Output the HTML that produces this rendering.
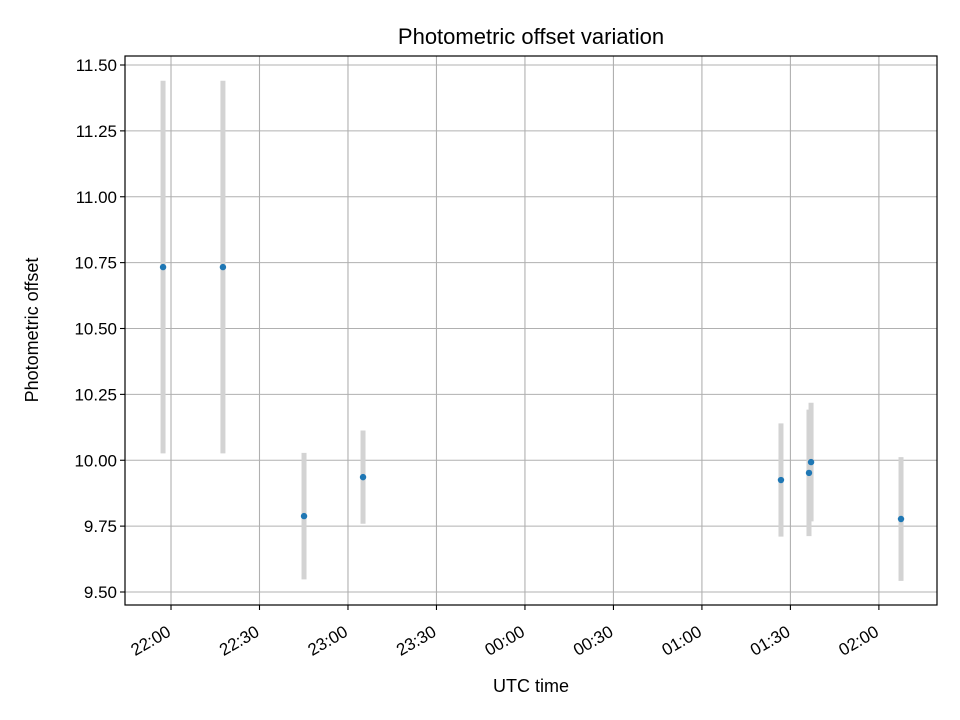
<!DOCTYPE html>
<html><head><meta charset="utf-8"><style>
html,body{margin:0;padding:0;background:#fff}
svg{display:block;font-family:"Liberation Sans","DejaVu Sans",sans-serif}
</style></head><body>
<svg id="chart" width="960" height="720" xmlns="http://www.w3.org/2000/svg">
<rect width="960" height="720" fill="#fff"/>
<g id="grid"></g>
<g id="series"></g>
<rect x="125" y="56" width="812" height="549" fill="none" stroke="#000" stroke-width="1.2"/>
<g id="axes"></g>
<text x="531" y="44" font-size="22" text-anchor="middle">Photometric offset variation</text>
<text x="531" y="692" font-size="18" text-anchor="middle">UTC time</text>
<text x="38" y="330" font-size="18" text-anchor="middle" transform="rotate(-90 38 330)">Photometric offset</text>
</svg>
<script>
// minutes since 22:00 UTC
const times = [-2.7, 17.6, 45.1, 65.1, 206.8, 216.3, 217.0, 247.5];
const offsets = [10.733, 10.733, 9.788, 9.936, 9.925, 9.952, 9.993, 9.777];
const errors = [0.707, 0.707, 0.24, 0.177, 0.215, 0.24, 0.225, 0.235];
const yTicks = [9.5, 9.75, 10.0, 10.25, 10.5, 10.75, 11.0, 11.25, 11.5];
const yTickLabels = ["9.50","9.75","10.00","10.25","10.50","10.75","11.00","11.25","11.50"];
const xTicks = [0, 30, 60, 90, 120, 150, 180, 210, 240];
const xTickLabels = ["22:00","22:30","23:00","23:30","00:00","00:30","01:00","01:30","02:00"];

const NS = "http://www.w3.org/2000/svg";
const L = 125, R = 937, T = 56, B = 605;
const xMin = -15.6, xMax = 259.7;
const yMin = 9.5 - (605 - 592) / 263.5, yMax = 11.5 + (65 - 56) / 263.5;
function xs(v) { return L + (v - xMin) / (xMax - xMin) * (R - L); }
function ys(v) { return B - (v - yMin) / (yMax - yMin) * (B - T); }
function mk(tag, attrs, parent) {
  const e = document.createElementNS(NS, tag);
  for (const k in attrs) e.setAttribute(k, attrs[k]);
  parent.appendChild(e);
  return e;
}
const grid = document.getElementById("grid");
const axes = document.getElementById("axes");
const series = document.getElementById("series");

yTicks.forEach((v, i) => {
  const y = ys(v);
  const g = mk("line", {x1: L, x2: R, y1: y, y2: y, stroke: "#b0b0b0", "stroke-width": 1.1}, grid);
  
  
  const t = mk("line", {x1: L - 5, x2: L, y1: y, y2: y, stroke: "#000", "stroke-width": 1.1}, axes);
  
  
  const lb = mk("text", {x: L - 8, y: y + 6, "font-size": 17, "text-anchor": "end"}, axes);
  lb.textContent = yTickLabels[i];
  
  
});
xTicks.forEach((v, i) => {
  const x = xs(v);
  const g = mk("line", {x1: x, x2: x, y1: T, y2: B, stroke: "#b0b0b0", "stroke-width": 1.1}, grid);
  
  
  const t = mk("line", {x1: x, x2: x, y1: B, y2: B + 5, stroke: "#000", "stroke-width": 1.1}, axes);
  
  
  const ax = x + 1, ay = B + 30;
  const lb = mk("text", {x: ax, y: ay, "font-size": 17, "text-anchor": "end",
    transform: "rotate(-30 " + ax + " " + ay + ")"}, axes);
  lb.textContent = xTickLabels[i];
  
  
});
times.forEach((tm, i) => {
  const x = xs(tm);
  const e = mk("line", {x1: x, x2: x, y1: ys(offsets[i] + errors[i]), y2: ys(offsets[i] - errors[i]),
    stroke: "#d3d3d3", "stroke-width": 5}, series);
  
  
});
times.forEach((tm, i) => {
  const p = mk("circle", {cx: xs(tm), cy: ys(offsets[i]), r: 3.2, fill: "#1f77b4"}, series);
  
  
});
</script>
</body></html>
